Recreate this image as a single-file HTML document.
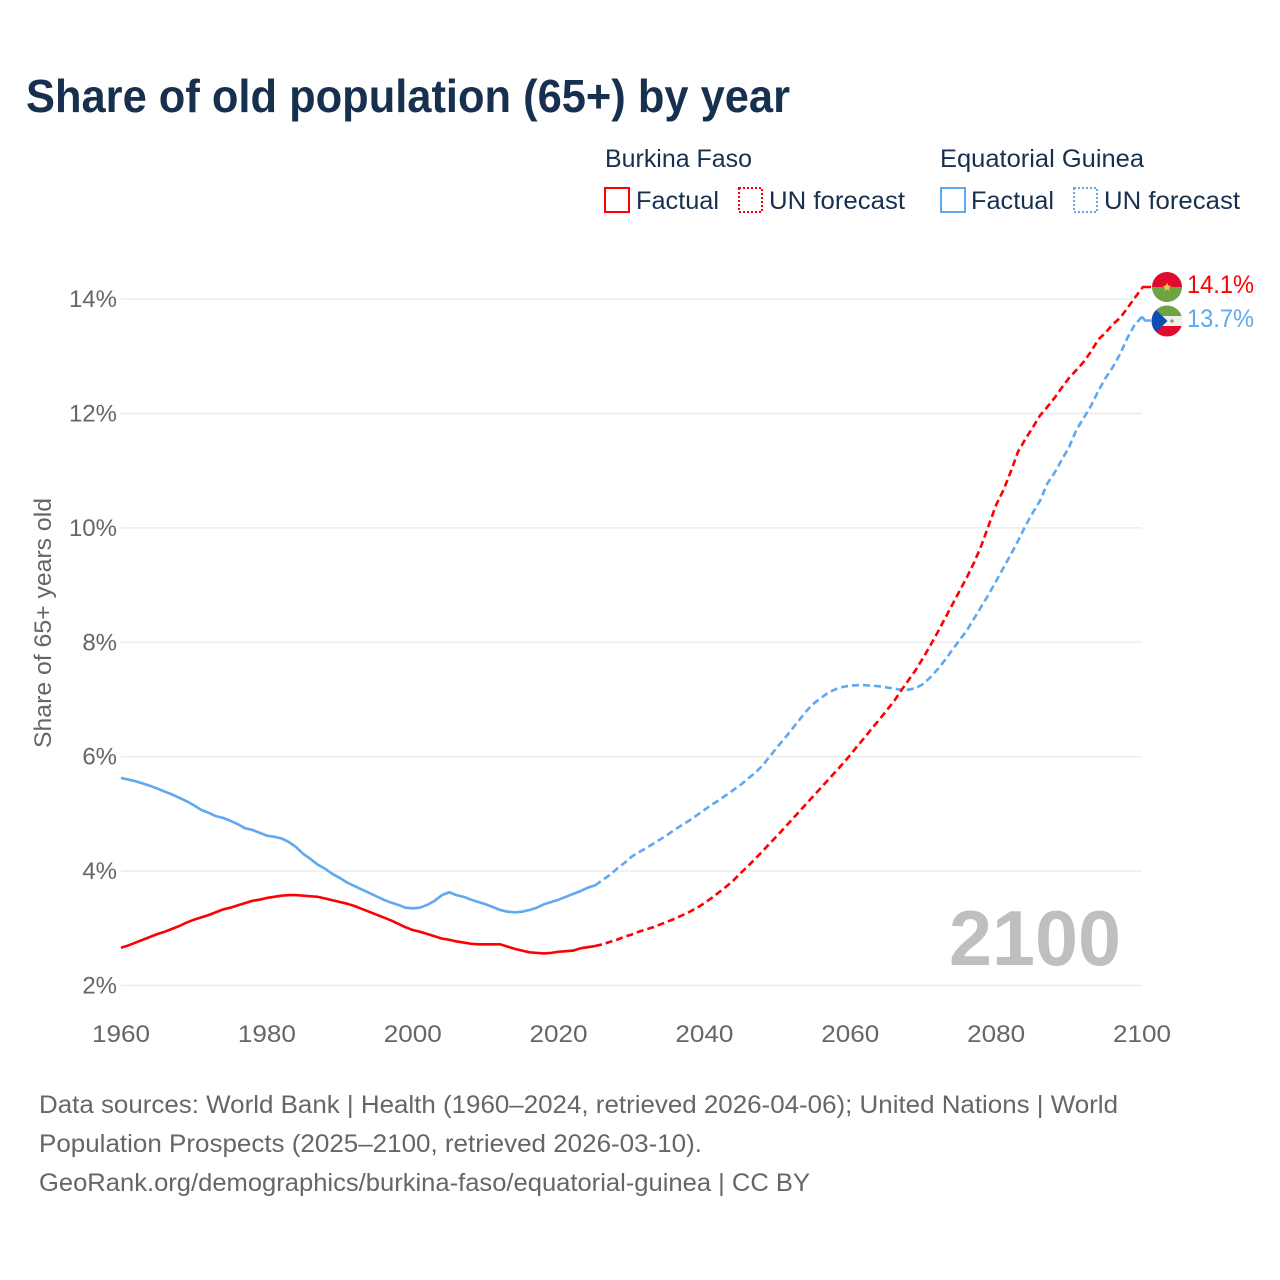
<!DOCTYPE html>
<html lang="en">
<head>
<meta charset="utf-8">
<title>Share of old population (65+) by year</title>
<style>
html,body{margin:0;padding:0;background:#fff;width:1280px;height:1280px;overflow:hidden}
svg{display:block;font-family:"Liberation Sans",sans-serif}
</style>
</head>
<body>
<svg id="chart" xmlns="http://www.w3.org/2000/svg" width="1280" height="1280" viewBox="0 0 1280 1280">
  <rect x="0" y="0" width="1280" height="1280" fill="#fff"/>
  <defs>
    <clipPath id="clip-bf"><circle cx="1167" cy="287" r="15"/></clipPath>
    <clipPath id="clip-gq"><circle cx="1167" cy="321" r="15.5"/></clipPath>
  </defs>

  <text x="26" y="112" font-size="46" font-weight="700" fill="#17304f" textLength="764" lengthAdjust="spacingAndGlyphs">Share of old population (65+) by year</text>

  <g font-size="25" fill="#17304f">
    <text x="605" y="167" textLength="147" lengthAdjust="spacingAndGlyphs">Burkina Faso</text>
    <rect x="605" y="188" width="24" height="24" fill="none" stroke="#ff0000" stroke-width="2"/>
    <text x="636" y="209" textLength="83" lengthAdjust="spacingAndGlyphs">Factual</text>
    <rect x="739" y="188" width="23" height="24" fill="none" stroke="#ff0000" stroke-width="2" stroke-dasharray="2 2"/>
    <text x="769" y="209" textLength="136" lengthAdjust="spacingAndGlyphs">UN forecast</text>

    <text x="940" y="167" textLength="204" lengthAdjust="spacingAndGlyphs">Equatorial Guinea</text>
    <rect x="941" y="188" width="24" height="24" fill="none" stroke="#5ea9ef" stroke-width="2"/>
    <text x="971" y="209" textLength="83" lengthAdjust="spacingAndGlyphs">Factual</text>
    <rect x="1074" y="188" width="23" height="24" fill="none" stroke="#5ea9ef" stroke-width="2" stroke-dasharray="2 2"/>
    <text x="1104" y="209" textLength="136" lengthAdjust="spacingAndGlyphs">UN forecast</text>
  </g>

  <text transform="translate(51,623) rotate(-90)" text-anchor="middle" font-size="24" fill="#666" textLength="250" lengthAdjust="spacingAndGlyphs">Share of 65+ years old</text>

  <g id="grid"></g>
  <g id="y-ticks"></g>
  <g id="x-ticks"></g>

  <text x="949" y="965" font-size="78" font-weight="700" fill="#bfbfbf" textLength="172" lengthAdjust="spacingAndGlyphs">2100</text>

  <g id="series"></g>

  <g clip-path="url(#clip-bf)">
    <rect x="1150" y="270" width="34" height="17" fill="#de0b2e"/>
    <rect x="1150" y="287" width="34" height="17" fill="#6ea344"/>
    <polygon points="1167,282.5 1168.2,285.6 1171.4,285.8 1168.9,287.8 1169.7,291 1167,289.2 1164.3,291 1165.1,287.8 1162.6,285.8 1165.8,285.6" fill="#f5c842"/>
  </g>
  <g clip-path="url(#clip-gq)">
    <rect x="1150" y="305" width="34" height="11" fill="#6ea344"/>
    <rect x="1150" y="316" width="34" height="11" fill="#eeeeee"/>
    <rect x="1150" y="326" width="34" height="12" fill="#de0b2e"/>
    <polygon points="1150,305 1151,305 1167.5,321 1151,337 1150,337" fill="#0b4fb3"/>
    <circle cx="1172" cy="321" r="1.6" fill="#7a9a5a"/>
  </g>

  <text x="1187" y="293" font-size="25" fill="#ff0000" textLength="67" lengthAdjust="spacingAndGlyphs">14.1%</text>
  <text x="1187" y="327" font-size="25" fill="#5ea9ef" textLength="67" lengthAdjust="spacingAndGlyphs">13.7%</text>

  <g font-size="25" fill="#666">
    <text x="39" y="1113" textLength="1079" lengthAdjust="spacingAndGlyphs">Data sources: World Bank | Health (1960–2024, retrieved 2026-04-06); United Nations | World</text>
    <text x="39" y="1152" textLength="663" lengthAdjust="spacingAndGlyphs">Population Prospects (2025–2100, retrieved 2026-03-10).</text>
    <text x="39" y="1191" textLength="771" lengthAdjust="spacingAndGlyphs">GeoRank.org/demographics/burkina-faso/equatorial-guinea | CC BY</text>
  </g>
</svg>

<script>
const yTickValues = [2, 4, 6, 8, 10, 12, 14];
const xTickValues = [1960, 1980, 2000, 2020, 2040, 2060, 2080, 2100];
const firstFactualYear = 1960;
const firstForecastYear = 2025;

const burkinaFactual = [
  2.66,2.70,2.75,2.80,2.85,2.90,2.94,2.99,3.04,3.10,
  3.15,3.19,3.23,3.28,3.33,3.36,3.40,3.44,3.48,3.50,
  3.53,3.55,3.57,3.58,3.58,3.57,3.56,3.55,3.52,3.49,
  3.46,3.43,3.39,3.34,3.29,3.24,3.19,3.14,3.08,3.02,
  2.97,2.94,2.90,2.86,2.82,2.80,2.77,2.75,2.73,2.72,
  2.72,2.72,2.72,2.68,2.64,2.61,2.58,2.57,2.56,2.57,
  2.59,2.60,2.61,2.65,2.67,2.69
];
const burkinaForecast = [
  2.69,2.72,2.76,2.80,2.85,2.89,2.94,2.98,3.02,3.07,
  3.12,3.17,3.23,3.29,3.36,3.44,3.53,3.63,3.73,3.84,
  3.97,4.09,4.22,4.35,4.49,4.62,4.76,4.90,5.04,5.18,
  5.32,5.46,5.60,5.74,5.88,6.03,6.19,6.34,6.50,6.65,
  6.81,6.97,7.16,7.34,7.52,7.73,7.95,8.18,8.42,8.66,
  8.90,9.14,9.40,9.70,10.05,10.40,10.66,10.98,11.33,11.55,
  11.75,11.96,12.11,12.27,12.45,12.62,12.76,12.90,13.08,13.29,
  13.41,13.56,13.67,13.84,14.02,14.19
];
const guineaFactual = [
  5.63,5.60,5.57,5.53,5.49,5.44,5.39,5.34,5.28,5.22,
  5.15,5.07,5.02,4.96,4.93,4.88,4.82,4.75,4.72,4.67,
  4.62,4.60,4.57,4.51,4.42,4.30,4.21,4.11,4.04,3.95,
  3.88,3.80,3.74,3.68,3.62,3.56,3.50,3.45,3.41,3.36,
  3.35,3.36,3.41,3.48,3.58,3.63,3.58,3.55,3.50,3.46,
  3.42,3.37,3.32,3.29,3.28,3.29,3.32,3.36,3.42,3.46,
  3.50,3.55,3.60,3.65,3.71,3.75
];
const guineaForecast = [
  3.75,3.84,3.93,4.04,4.14,4.25,4.33,4.40,4.48,4.56,
  4.64,4.73,4.81,4.89,4.98,5.07,5.16,5.24,5.33,5.42,
  5.51,5.62,5.72,5.85,6.01,6.17,6.32,6.48,6.64,6.80,
  6.93,7.03,7.12,7.18,7.22,7.24,7.25,7.25,7.24,7.23,
  7.21,7.19,7.17,7.17,7.20,7.27,7.39,7.53,7.69,7.87,
  8.04,8.21,8.42,8.63,8.84,9.07,9.30,9.53,9.77,10.03,
  10.26,10.47,10.77,10.96,11.19,11.41,11.71,11.92,12.13,12.39,
  12.62,12.81,13.04,13.32,13.55,13.69
];

const SVG_NS = 'http://www.w3.org/2000/svg';
const X0 = 121, X1 = 1142, Y2 = 985.5, Y14 = 299;
function xScale(year) { return X0 + (year - 1960) * (X1 - X0) / 140; }
function yScale(v) { return Y2 - (v - 2) * (Y2 - Y14) / 12; }

function linePath(values, startYear) {
  return values.map(function (v, i) {
    return (i ? 'L' : 'M') + xScale(startYear + i).toFixed(2) + ' ' + yScale(v).toFixed(2);
  }).join(' ');
}

const gridGroup = document.getElementById('grid');
const yTickGroup = document.getElementById('y-ticks');
const xTickGroup = document.getElementById('x-ticks');
const seriesGroup = document.getElementById('series');

yTickValues.forEach(function (t) {
  const line = document.createElementNS(SVG_NS, 'line');
  
  
  line.setAttribute('x1', X0);
  line.setAttribute('x2', X1);
  line.setAttribute('y1', yScale(t));
  line.setAttribute('y2', yScale(t));
  line.setAttribute('stroke', '#eeeeee');
  line.setAttribute('stroke-width', '1.6');
  gridGroup.appendChild(line);

  const label = document.createElementNS(SVG_NS, 'text');
  
  
  label.setAttribute('x', 117);
  label.setAttribute('y', yScale(t) + 8);
  label.setAttribute('text-anchor', 'end');
  label.setAttribute('font-size', '24');
  label.setAttribute('fill', '#666');
  label.textContent = t + '%';
  yTickGroup.appendChild(label);
});

xTickValues.forEach(function (t) {
  const label = document.createElementNS(SVG_NS, 'text');
  
  
  label.setAttribute('x', xScale(t));
  label.setAttribute('y', 1042);
  label.setAttribute('text-anchor', 'middle');
  label.setAttribute('font-size', '24');
  label.setAttribute('fill', '#666');
  label.setAttribute('textLength', '58');
  label.setAttribute('lengthAdjust', 'spacingAndGlyphs');
  label.textContent = t;
  xTickGroup.appendChild(label);
});

function addLine(d, colour, dashed, name) {
  const path = document.createElementNS(SVG_NS, 'path');
  
  
  path.setAttribute('d', d);
  path.setAttribute('fill', 'none');
  path.setAttribute('stroke', colour);
  path.setAttribute('stroke-width', '2.6');
  path.setAttribute('stroke-linejoin', 'round');
  if (dashed) path.setAttribute('stroke-dasharray', '7 4');
  seriesGroup.appendChild(path);
}

addLine(linePath(guineaFactual, firstFactualYear), '#5ea9ef', false, 'line-guinea-factual');
addLine(linePath(guineaForecast, firstForecastYear), '#5ea9ef', true, 'line-guinea-forecast');
addLine(linePath(burkinaFactual, firstFactualYear), '#ff0000', false, 'line-burkina-factual');
addLine(linePath(burkinaForecast, firstForecastYear), '#ff0000', true, 'line-burkina-forecast');

const redEnd = yScale(burkinaForecast[burkinaForecast.length - 1]);
const blueEnd = yScale(guineaForecast[guineaForecast.length - 1]);
addLine('M' + X1 + ' ' + redEnd.toFixed(2) + ' L' + (X1 + 1) + ' 287 L1151 287', '#ff0000', false, 'connector-burkina');
addLine('M' + X1 + ' ' + blueEnd.toFixed(2) + ' L' + (X1 + 3) + ' 320.5 L1151 320.5', '#5ea9ef', false, 'connector-guinea');
</script>
</body>
</html>
